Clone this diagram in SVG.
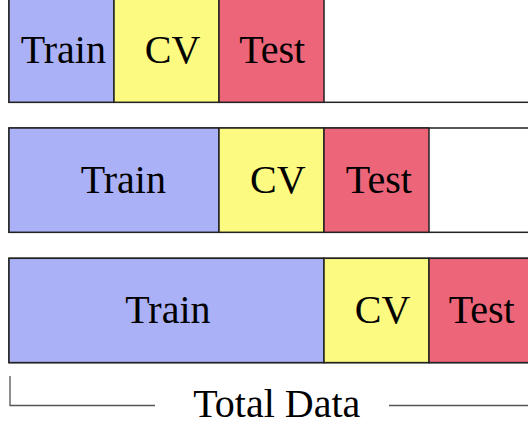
<svg xmlns="http://www.w3.org/2000/svg" width="528" height="425" viewBox="0 0 528 425">
<style>
.box{stroke:#222;stroke-width:1.5}
.train{fill:#aab1f6}
.cv{fill:#fcfa80}
.test{fill:#ec6579}
.empty{fill:#ffffff}
.lbl{font-family:'Liberation Serif','DejaVu Serif',serif;font-size:40px;fill:#000;text-anchor:middle}
.brk{fill:none;stroke:#555;stroke-width:1.3}
</style>
<rect x="0" y="0" width="528" height="425" fill="#ffffff"/>
<g id="row1">
<rect class="box empty" x="9" y="-2" width="540" height="104.3"/>
<rect class="box train" x="9" y="-2" width="105" height="104.3"/>
<rect class="box cv" x="114" y="-2" width="105" height="104.3"/>
<rect class="box test" x="219" y="-2" width="105" height="104.3"/>
</g>
<g id="row2">
<rect class="box empty" x="9" y="128" width="540" height="104.3"/>
<rect class="box train" x="9" y="128" width="210" height="104.3"/>
<rect class="box cv" x="219" y="128" width="105" height="104.3"/>
<rect class="box test" x="324" y="128" width="105" height="104.3"/>
</g>
<g id="row3">
<rect class="box empty" x="9" y="258.3" width="540" height="104.3"/>
<rect class="box train" x="9" y="258.3" width="315" height="104.3"/>
<rect class="box cv" x="324" y="258.3" width="105" height="104.3"/>
<rect class="box test" x="429" y="258.3" width="120" height="104.3"/>
</g>
<g id="connectors">
<polyline class="brk" points="10,376 10,405.5 155,405.5"/>
<line class="brk" x1="389" y1="405.5" x2="540" y2="405.5"/>
</g>
<g id="labels">
<text class="lbl" x="63.3" y="63.3">Train</text>
<text class="lbl" x="172.5" y="63.3">CV</text>
<text class="lbl" x="272.2" y="63.3">Test</text>
<text class="lbl" x="123.3" y="193.3">Train</text>
<text class="lbl" x="277.8" y="193.3">CV</text>
<text class="lbl" x="378.8" y="193.3">Test</text>
<text class="lbl" x="167.9" y="323.3">Train</text>
<text class="lbl" x="382.5" y="323.3">CV</text>
<text class="lbl" x="481.7" y="323.3">Test</text>
<text class="lbl" x="276.7" y="416.7">Total Data</text>
</g>
</svg>
